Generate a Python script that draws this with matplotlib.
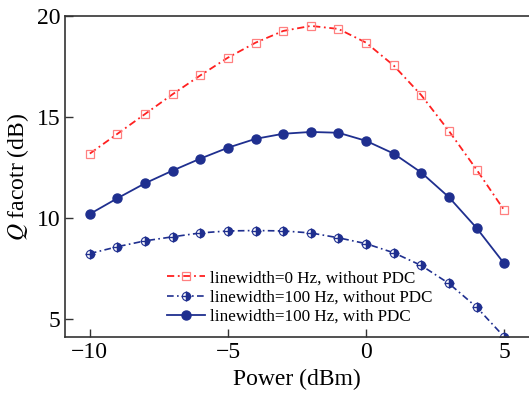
import numpy as np
import matplotlib.pyplot as plt
from matplotlib.lines import Line2D

plt.rcParams['font.family'] = ['Liberation Serif', 'DejaVu Serif']
plt.rcParams['mathtext.fontset'] = 'stix'

power = [-10, -9, -8, -7, -6, -5, -4, -3, -2, -1, 0, 1, 2, 3, 4, 5]
q_0hz_no_pdc = [13.19, 14.17, 15.15, 16.13, 17.06, 17.94, 18.68, 19.26, 19.51,
                19.36, 18.68, 17.55, 16.08, 14.31, 12.40, 10.39]
q_100hz_no_pdc = [8.24, 8.58, 8.87, 9.07, 9.26, 9.36, 9.38, 9.36, 9.26,
                  9.02, 8.73, 8.28, 7.65, 6.76, 5.59, 4.12]
q_100hz_pdc = [10.20, 10.98, 11.72, 12.35, 12.94, 13.48, 13.92, 14.17, 14.26,
               14.22, 13.82, 13.19, 12.25, 11.03, 9.51, 7.75]

red = '#ff2020'
blue = '#1f2f8f'

fig = plt.figure(figsize=(5.29, 3.98), dpi=100)
ax = fig.add_axes([0.1229, 0.1533, 0.8771, 0.8065])

l1, = ax.plot(power, q_0hz_no_pdc, color=red, ls=(0, (4, 2, 1, 2)), lw=1.3,
              marker='s', ms=6, mfc='none', mec='#ff8080', mew=0.9)
l2, = ax.plot(power, q_100hz_no_pdc, color=blue, ls=(0, (4, 2, 1, 2)), lw=1.2,
              marker='o', ms=6, fillstyle='right', mfc=blue, mfcalt='white',
              mec=blue, mew=0.8)
l2b, = ax.plot(power, q_100hz_no_pdc, ls='none', marker='+', ms=7,
               mec=blue, mew=1.0)
l3, = ax.plot(power, q_100hz_pdc, color=blue, ls='-', lw=1.3,
              marker='o', ms=6.5, mfc=blue, mec=blue)

ax.set_xlim(-10.9, 5.9)
ax.set_ylim(4.11, 20)
ax.set_xticks([-10, -5, 0, 5])
ax.set_yticks([5, 10, 15, 20])
ax.set_xticklabels(['\u221210', '\u22125', '0', '5'])
ax.tick_params(direction='in', length=6, width=1, labelsize=17, color='#333333')
ax.spines['right'].set_visible(False)
for s in ['left', 'top', 'bottom']:
    ax.spines[s].set_linewidth(1.2)
    ax.spines[s].set_color('#333333')

ax.set_xlabel('Power (dBm)', fontsize=17)
ax.set_ylabel('$Q$ facotr (dB)', fontsize=17)

ax.legend([l1, (l2, l2b), l3],
          ['linewidth=0 Hz, without PDC', 'linewidth=100 Hz, without PDC',
           'linewidth=100 Hz, with PDC'],
          loc='lower left', bbox_to_anchor=(0.195, 0.0), frameon=False,
          fontsize=12.3, handlelength=2.2, handletextpad=0.3, labelspacing=0.2,
          borderaxespad=0.3)

fig.savefig('out.png', dpi=100)
